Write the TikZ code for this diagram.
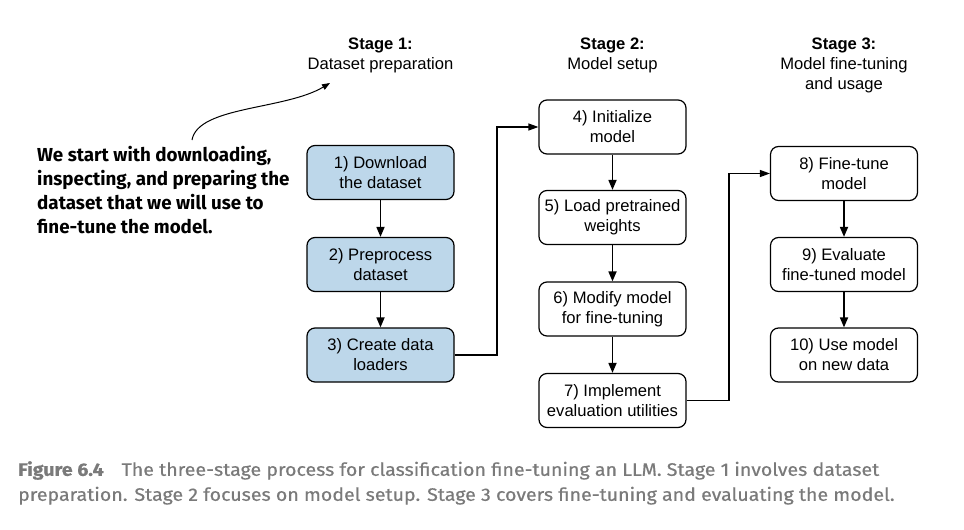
\documentclass[tikz,border=0pt]{standalone}
\usepackage{fontspec}
\setmainfont{Liberation Sans}
\newfontfamily\callfont{Fira Sans}
\newfontfamily\capfont{Fira Sans}[FakeStretch=1.09,FakeBold=0.5]
\usetikzlibrary{arrows.meta}
\definecolor{boxblue}{HTML}{BDD7EA}
\definecolor{capgray}{HTML}{7A7A7A}
\begin{document}
\begin{tikzpicture}[x=1pt,y=-1pt,
  stepbox/.style={draw=black,line width=1.2pt,rounded corners=8pt,minimum width=147pt,minimum height=54pt,inner sep=0pt,align=center,font=\fontsize{16.6}{20}\selectfont},
  bluebox/.style={stepbox,fill=boxblue},
  whitebox/.style={stepbox,fill=white},
  flow/.style={line width=1.7pt,-{Triangle[length=10pt,width=8pt]}},
  link/.style={line width=1.2pt,-{Triangle[length=10pt,width=7pt]}},
  stagelbl/.style={align=center,font=\fontsize{16.6}{20}\selectfont,inner sep=0pt}]
\useasboundingbox (0,0) rectangle (964,530);
\fill[white] (0,0) rectangle (964,530);
% stage labels
\node[stagelbl,anchor=north] (s1) at (380.5,38) {\textbf{Stage 1:}\\Dataset preparation};
\node[stagelbl,anchor=north] (s2) at (612.5,38) {\textbf{Stage 2:}\\Model setup};
\node[stagelbl,anchor=north] (s3) at (844,38) {\textbf{Stage 3:}\\Model fine-tuning\\and usage};
% boxes
\node[bluebox] (b1) at (380.5,172.5) {1) Download\\the dataset};
\node[bluebox] (b2) at (380.5,264.5) {2) Preprocess\\dataset};
\node[bluebox] (b3) at (380.5,355) {3) Create data\\loaders};
\node[whitebox] (b4) at (612.5,127) {4) Initialize\\model};
\node[whitebox] (b5) at (612.5,217.5) {5) Load pretrained\\weights};
\node[whitebox] (b6) at (612.5,309) {6) Modify model\\for fine-tuning};
\node[whitebox] (b7) at (612.5,400.5) {7) Implement\\evaluation utilities};
\node[whitebox] (b8) at (844,173.5) {8) Fine-tune\\model};
\node[whitebox] (b9) at (844,264.5) {9) Evaluate\\fine-tuned model};
\node[whitebox] (b10) at (844,355) {10) Use model\\on new data};
% arrows
\draw[flow] (b1) -- (b2);
\draw[flow] (b2) -- (b3);
\draw[flow] (b4) -- (b5);
\draw[flow] (b5) -- (b6);
\draw[flow] (b6) -- (b7);
\draw[flow] (b8) -- (b9);
\draw[flow] (b9) -- (b10);
\draw[link] (b3.east) -- (497,355) |- (b4.west);
\draw[link] (b7.east) -- (729,400.5) |- (b8.west);
% callout
\node[anchor=north west,align=left,inner sep=0pt,font=\callfont\bfseries\fontsize{18.8}{24}\selectfont] (call) at (37,146) {We start with downloading,\\inspecting, and preparing the\\dataset that we will use to\\fine-tune the model.};
\coordinate (cs) at (192,140);
\draw[line width=1pt,-{Triangle[length=8pt,width=6pt]}] (cs) .. controls (198,106) and (285,110) .. (330,83);
% caption
\node[anchor=north west,align=left,inner sep=0pt,text=capgray,font=\capfont\fontsize{18}{25}\selectfont] (cap) at (18,461) {\textbf{Figure 6.4}\hspace{1.0em}The three-stage process for classification fine-tuning an LLM. Stage 1 involves dataset\\preparation. Stage 2 focuses on model setup. Stage 3 covers fine-tuning and evaluating the model.};
\end{tikzpicture}
\end{document}
